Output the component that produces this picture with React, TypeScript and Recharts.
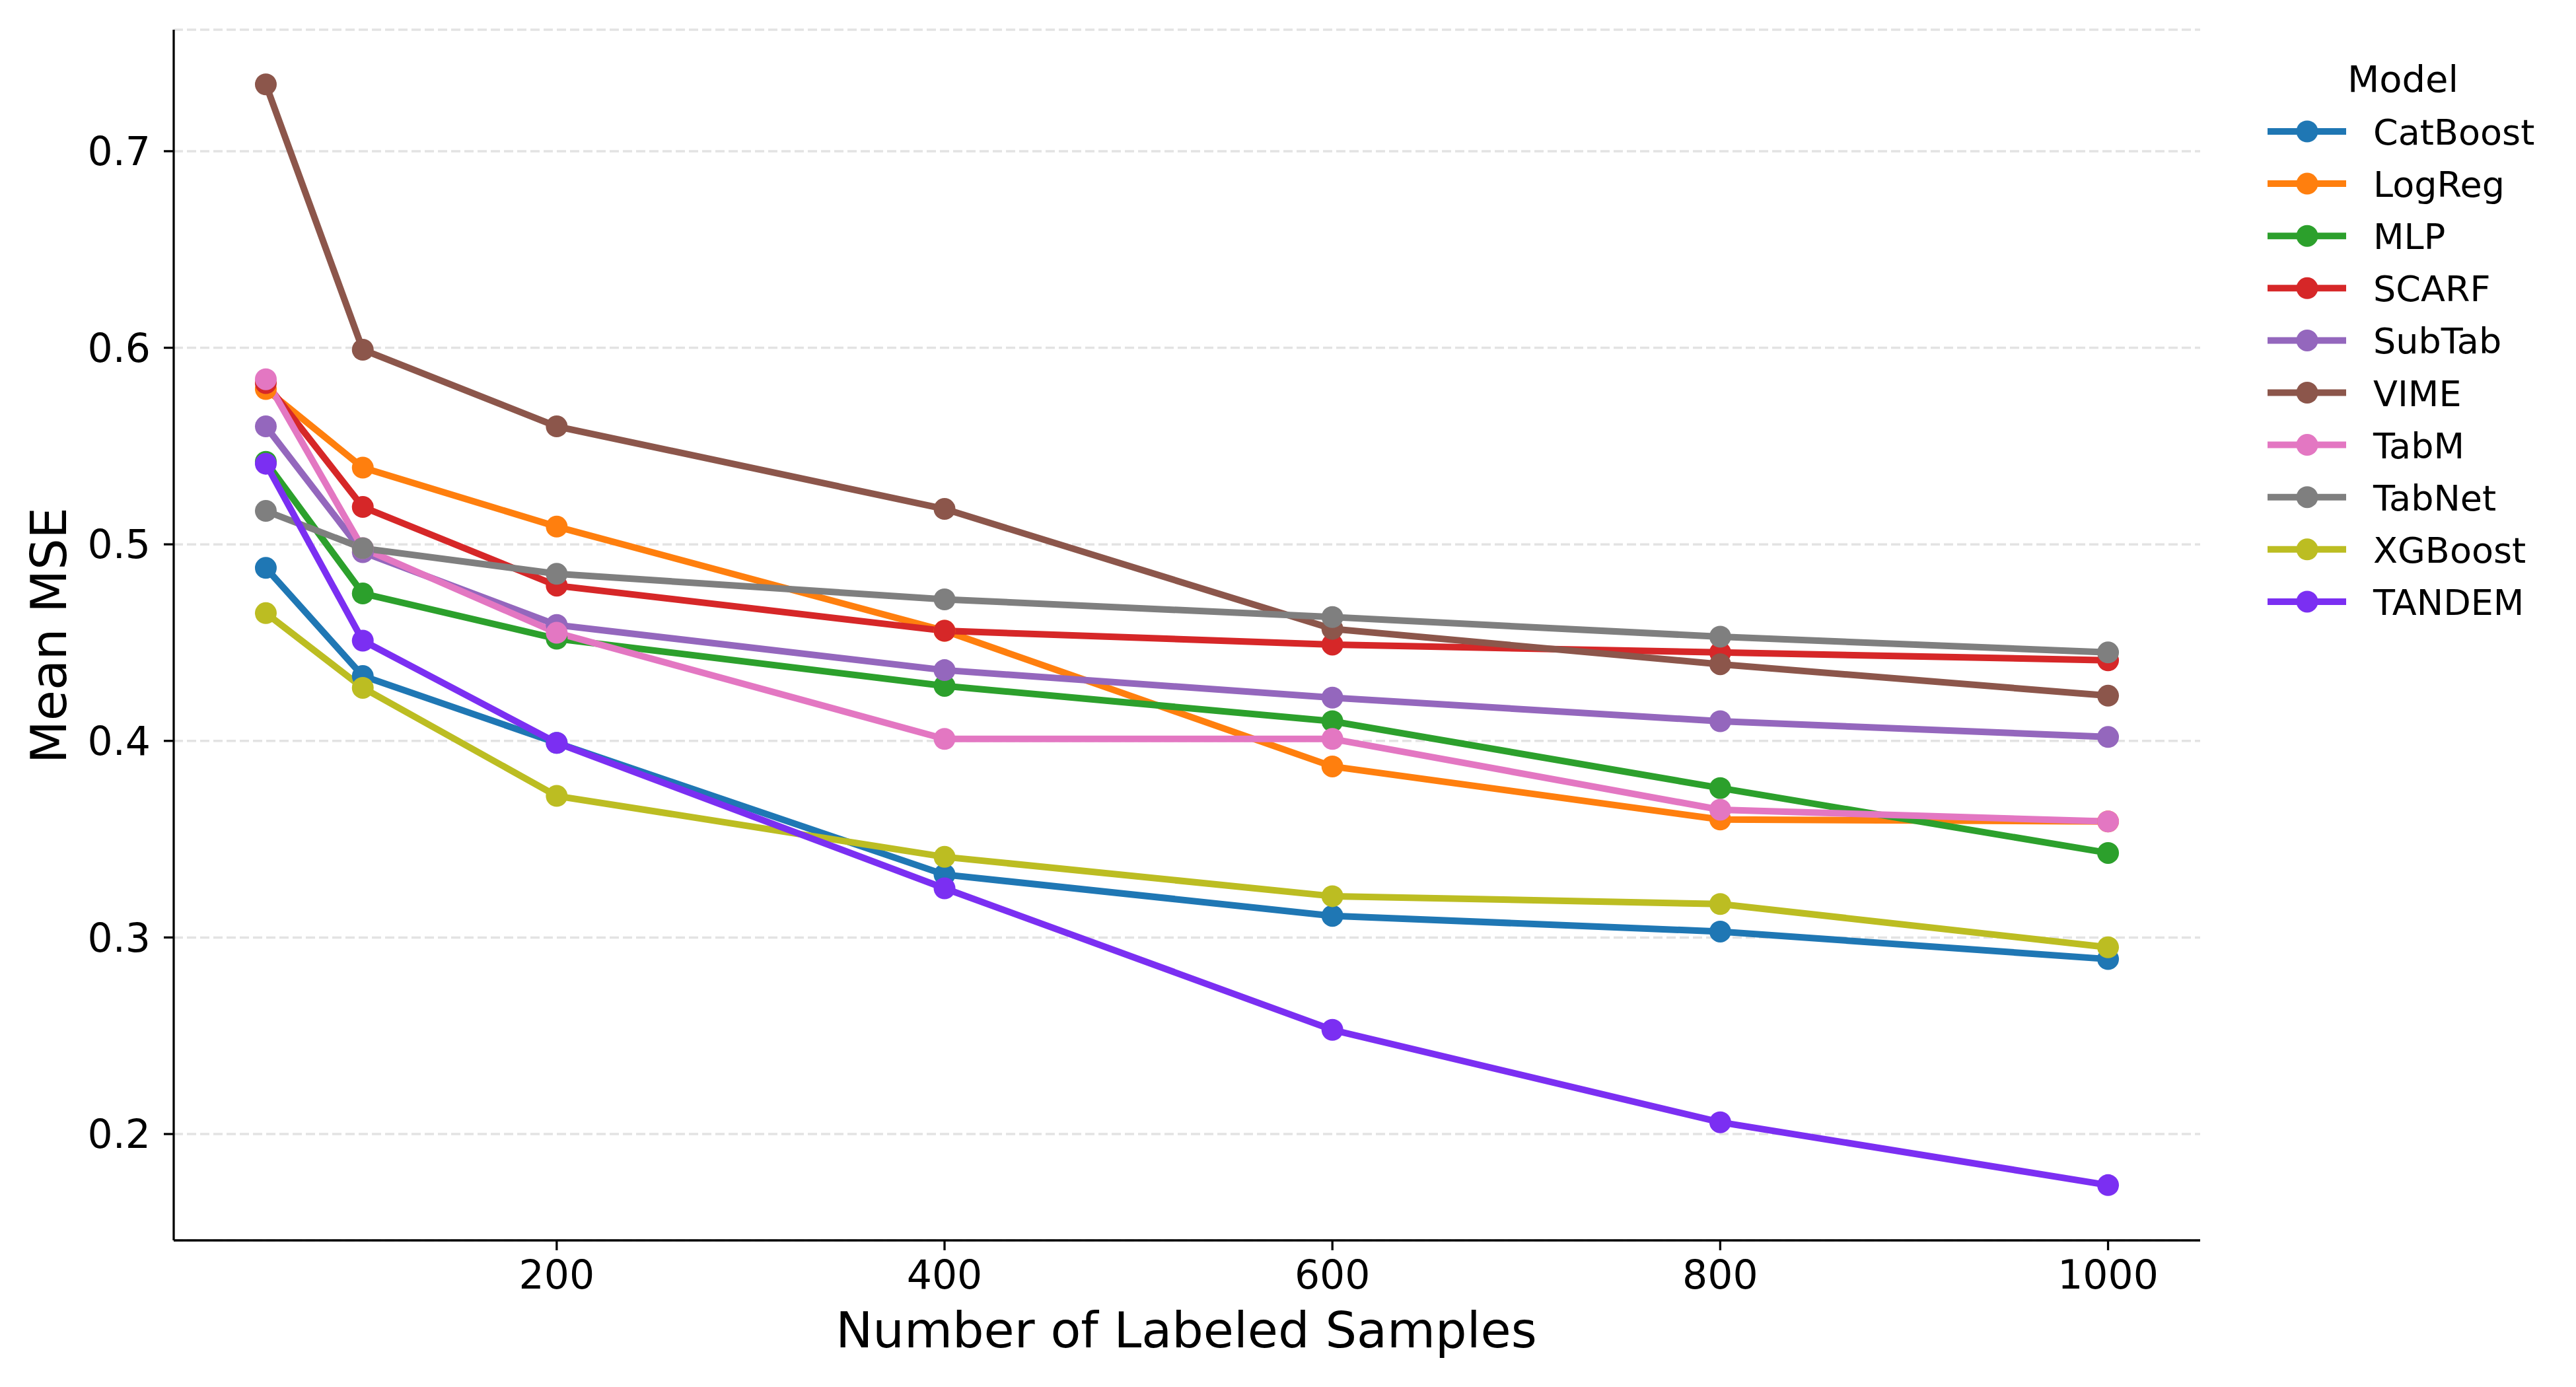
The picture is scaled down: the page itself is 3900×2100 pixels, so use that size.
import React from 'react';
import { LineChart, Line, XAxis, YAxis, CartesianGrid, Legend, Label } from 'recharts';

const samples = [50, 100, 200, 400, 600, 800, 1000];
const xTicks = [200, 400, 600, 800, 1000];
const yTicks = [0.2, 0.3, 0.4, 0.5, 0.6, 0.7];

const catBoost = [0.488, 0.433, 0.399, 0.332, 0.311, 0.303, 0.289];
const logReg = [0.579, 0.539, 0.509, 0.456, 0.387, 0.360, 0.359];
const mlp = [0.542, 0.475, 0.452, 0.428, 0.410, 0.376, 0.343];
const scarf = [0.582, 0.519, 0.479, 0.456, 0.449, 0.445, 0.441];
const subTab = [0.560, 0.496, 0.459, 0.436, 0.422, 0.410, 0.402];
const vime = [0.734, 0.599, 0.560, 0.518, 0.457, 0.439, 0.423];
const tabM = [0.584, 0.498, 0.455, 0.401, 0.401, 0.365, 0.359];
const tabNet = [0.517, 0.498, 0.485, 0.472, 0.463, 0.453, 0.445];
const xgBoost = [0.465, 0.427, 0.372, 0.341, 0.321, 0.317, 0.295];
const tandem = [0.541, 0.451, 0.399, 0.325, 0.253, 0.206, 0.174];

const seriesNames = ['CatBoost', 'LogReg', 'MLP', 'SCARF', 'SubTab', 'VIME', 'TabM', 'TabNet', 'XGBoost', 'TANDEM'];
const seriesValues = [catBoost, logReg, mlp, scarf, subTab, vime, tabM, tabNet, xgBoost, tandem];
const seriesColors = ['#1f77b4', '#ff7f0e', '#2ca02c', '#d62728', '#9467bd', '#8c564b', '#e377c2', '#7f7f7f', '#bcbd22', '#7b2ff2'];

const data = samples.map((n, i) => {
  const row: Record<string, number> = { n };
  seriesNames.forEach((name, k) => {
    row[name] = seriesValues[k][i];
  });
  return row;
});

const FONT = '"DejaVu Sans", "Liberation Sans", sans-serif';

const renderLegend = () => (
  <svg width={500} height={900} style={{ display: 'block' }}>
    <text x={238} y={89} textAnchor="middle" fontSize={56} fontFamily={FONT} fill="#000">
      Model
    </text>
    {seriesNames.map((name, i) => {
      const y = 149 + i * 79.1;
      return (
        <g key={name}>
          <line x1={33} x2={152} y1={y} y2={y} stroke={seriesColors[i]} strokeWidth={10} />
          <circle cx={93} cy={y} r={16.5} fill={seriesColors[i]} />
          <text x={193} y={y + 20} fontSize={54} fontFamily={FONT} fill="#000">
            {name}
          </text>
        </g>
      );
    })}
  </svg>
);

export default function App() {
  return (
    <div style={{ position: 'absolute', left: 0, top: 0, width: 3900, height: 2100, background: '#fff' }}>
      <LineChart
        width={3900}
        height={2100}
        data={data}
        margin={{ top: 45, right: 569, bottom: 22, left: 63 }}
      >
        <CartesianGrid vertical={false} stroke="#e3e3e3" strokeDasharray="14 6" strokeWidth={3.5} />
        <XAxis
          dataKey="n"
          type="number"
          domain={[2.5, 1047.5]}
          ticks={xTicks}
          allowDataOverflow
          height={200}
          tickSize={15}
          tickMargin={15}
          axisLine={{ stroke: '#000', strokeWidth: 3.3 }}
          tickLine={{ stroke: '#000', strokeWidth: 3.3 }}
          tick={{ fontSize: 60, fill: '#000', fontFamily: FONT }}
        >
          <Label
            content={() => (
              <text x={1796} y={2040} textAnchor="middle" fontSize={75} fontFamily={FONT} fill="#000">
                Number of Labeled Samples
              </text>
            )}
          />
        </XAxis>
        <YAxis
          type="number"
          domain={[0.1459, 0.7618]}
          ticks={yTicks}
          allowDataOverflow
          width={200}
          tickSize={15}
          tickMargin={20}
          tickFormatter={(v: number) => v.toFixed(1)}
          axisLine={{ stroke: '#000', strokeWidth: 3.3 }}
          tickLine={{ stroke: '#000', strokeWidth: 3.3 }}
          tick={{ fontSize: 60, fill: '#000', fontFamily: FONT }}
        >
          <Label
            content={() => (
              <text
                x={100}
                y={962}
                transform="rotate(-90 100 962)"
                textAnchor="middle"
                fontSize={75}
                fontFamily={FONT}
                fill="#000"
              >
                Mean MSE
              </text>
            )}
          />
        </YAxis>
        <Legend
          layout="horizontal"
          verticalAlign="middle"
          align="center"
          wrapperStyle={{ position: 'absolute', left: 3400, top: 50, width: 500, height: 900 }}
          content={renderLegend}
        />
        {seriesNames.map((name, k) => (
          <Line
            key={name}
            type="linear"
            dataKey={name}
            name={name}
            stroke={seriesColors[k]}
            strokeWidth={10}
            dot={{ r: 16.5, fill: seriesColors[k], stroke: 'none' }}
            activeDot={false}
            isAnimationActive={false}
          />
        ))}
      </LineChart>
    </div>
  );
}
